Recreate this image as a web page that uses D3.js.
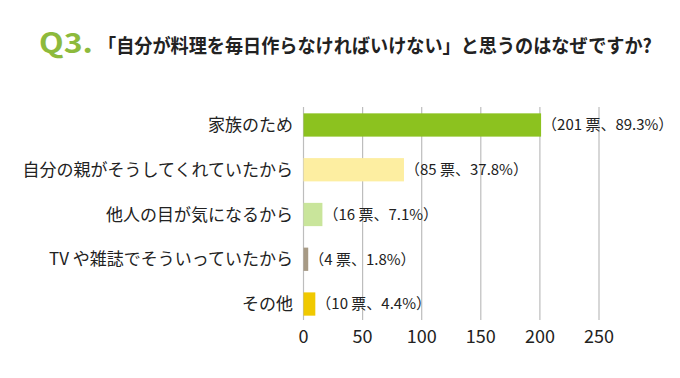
<!DOCTYPE html>
<html>
<head>
<meta charset="utf-8">
<script src="https://cdn.jsdelivr.net/npm/d3@7"></script>
<style>
  body { margin: 0; background: #fff; }
  text { font-family: "Noto Sans CJK JP", "Noto Sans", sans-serif; }
</style>
</head>
<body>
<div id="chart-area"></div>
<script>
const categories = ["家族のため", "自分の親がそうしてくれていたから", "他人の目が気になるから", "TV や雑誌でそういっていたから", "その他"]
const votes = [201, 85, 16, 4, 10]
const percents = ["89.3", "37.8", "7.1", "1.8", "4.4"]
const colors = ["#8cc21f", "#fdeea1", "#c9e59b", "#a79a85", "#f0c900"]
const ticks = [0, 50, 100, 150, 200, 250]

const W = 680
const H = 378

const svg = d3.select("#chart-area")
    .append("svg")
    .attr("width", W)
    .attr("height", H)

// fit a text into a given width by squeezing it horizontally
const squeeze = function(x, y, width, str, attrs) {
    const grp = svg.append("g")
    const t = grp.append("text").text(str)
    Object.entries(attrs).forEach(([k, v]) => t.attr(k, v))
    const len = t.node().getComputedTextLength()
    grp.attr("transform", `translate(${x}, ${y}) scale(${width / len}, 1)`)
}

// title
squeeze(39, 53, 54, "Q3.", {
    "fill": "#8dba3c",
    "font-size": "28px",
    "font-weight": "bold",
    "font-family": "'DejaVu Sans', sans-serif"
})
squeeze(98, 53, 554, "「自分が料理を毎日作らなければいけない」と思うのはなぜですか?", {
    "fill": "#222",
    "font-size": "19.5px",
    "font-weight": "bold"
})

const xScale = d3.scaleLinear()
    .domain([0, 250])
    .range([303.5, 599])

const yScale = d3.scaleBand()
    .domain(categories)
    .range([102.6, 326.4])
    .paddingInner(0.48)
    .paddingOuter(0.24)

// gridlines
svg.append("g")
    .selectAll("line")
    .data(ticks)
    .join("line")
    .attr("x1", d => xScale(d))
    .attr("x2", d => xScale(d))
    .attr("y1", 107)
    .attr("y2", 320)
    .attr("stroke", "#bdbdbd")
    .attr("stroke-width", 1.2)

// bars
svg.append("g")
    .selectAll("rect")
    .data(categories)
    .join("rect")
    .attr("x", xScale(0))
    .attr("y", d => yScale(d))
    .attr("width", (d, i) => xScale(votes[i]) - xScale(0))
    .attr("height", yScale.bandwidth())
    .attr("fill", (d, i) => colors[i])

// category labels
svg.append("g")
    .selectAll("text")
    .data(categories)
    .join("text")
    .attr("x", 293)
    .attr("y", d => yScale(d) + yScale.bandwidth() / 2)
    .attr("dy", "0.36em")
    .attr("text-anchor", "end")
    .attr("font-size", "17px")
    .attr("fill", "#222")
    .text(d => d)

// value labels
svg.append("g")
    .selectAll("text")
    .data(categories)
    .join("text")
    .attr("x", (d, i) => xScale(votes[i]) + 1)
    .attr("y", d => yScale(d) + yScale.bandwidth() / 2)
    .attr("dy", "0.36em")
    .attr("font-size", "15px")
    .attr("fill", "#222")
    .text((d, i) => `（${votes[i]} 票、${percents[i]}%）`)

// x axis tick labels
svg.append("g")
    .selectAll("text")
    .data(ticks)
    .join("text")
    .attr("x", d => xScale(d))
    .attr("y", 337)
    .attr("dy", "0.36em")
    .attr("text-anchor", "middle")
    .attr("font-size", "18px")
    .attr("fill", "#222")
    .text(d => d)
</script>
</body>
</html>
